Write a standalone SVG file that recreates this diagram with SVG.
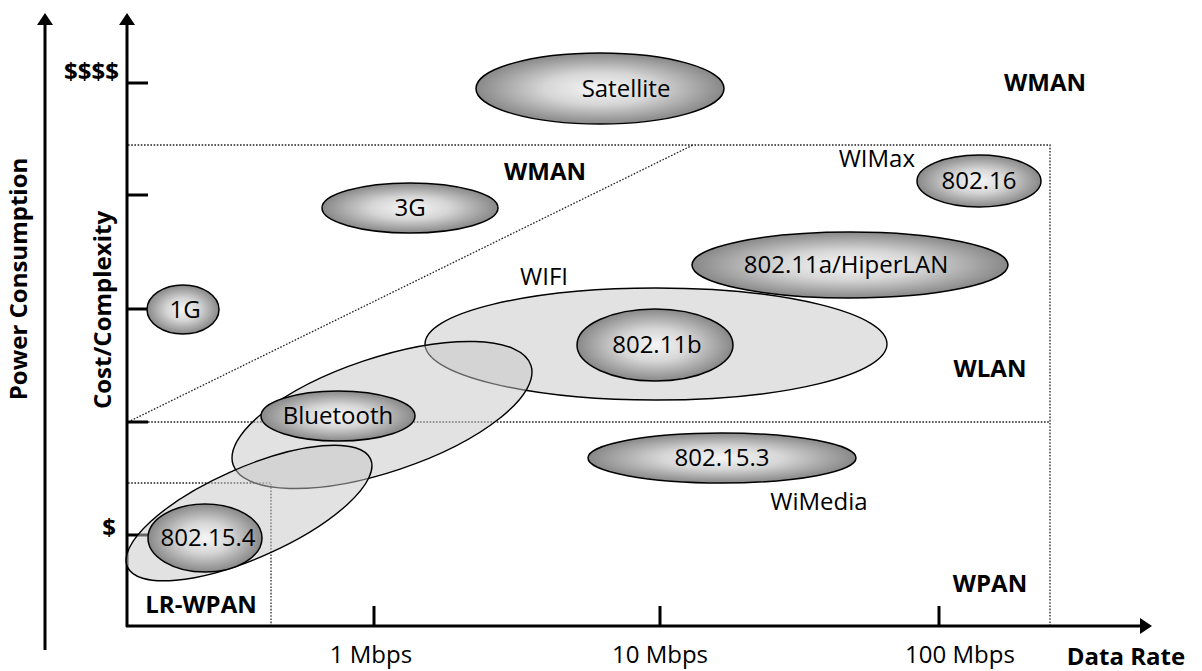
<svg xmlns="http://www.w3.org/2000/svg" width="1202" height="671" viewBox="0 0 1202 671">
  <style>
    text { font-family: "Open Sans", "Liberation Sans", sans-serif; font-size: 24px; fill: #000; }
    .b { font-weight: bold; }
    .c { text-anchor: middle; }
    .e { text-anchor: end; }
    .axis { stroke: #000; stroke-width: 3; fill: none; }
    .tick { stroke: #000; stroke-width: 3; }
    .dot { stroke: #222; stroke-width: 1.3; stroke-dasharray: 1.6 1.6; fill: none; }
    .zone { fill: #c6c6c6; fill-opacity: 0.5; stroke: #000; stroke-width: 1.4; }
    .tech { fill: url(#shade); stroke: #000; stroke-width: 1.5; }
  </style>
  <defs>
    <radialGradient id="shade" cx="50%" cy="50%" r="50%">
      <stop offset="0" stop-color="#f6f6f6"/>
      <stop offset="0.45" stop-color="#d6d6d6"/>
      <stop offset="1" stop-color="#888888"/>
    </radialGradient>
    <marker id="arrow" markerWidth="12" markerHeight="16" refX="1" refY="8" orient="auto" markerUnits="userSpaceOnUse">
      <path d="M0,0 L12,8 L0,16 Z" fill="#000"/>
    </marker>
  </defs>

  <rect width="1202" height="671" fill="#fff"/>

  <!-- region boundaries -->
  <g id="connectors">
    <path class="dot" d="M128,145 H1050 V626"/>
    <path class="dot" d="M148,422 H1050"/>
    <path class="dot" d="M128,422 L693,145"/>
    <path class="dot" d="M128,483 H271 V626"/>
  </g>

  <!-- axes and ticks -->
  <g id="axes">
    <line class="axis" x1="45" y1="650" x2="45" y2="24" marker-end="url(#arrow)"/>
    <line class="axis" x1="127" y1="627" x2="127" y2="24" marker-end="url(#arrow)"/>
    <line class="axis" x1="126" y1="626" x2="1141" y2="626" marker-end="url(#arrow)"/>
    <g class="tick">
      <line x1="127" y1="83" x2="148" y2="83"/>
      <line x1="127" y1="195" x2="148" y2="195"/>
      <line x1="127" y1="309" x2="148" y2="309"/>
      <line x1="127" y1="422" x2="148" y2="422"/>
      <line x1="127" y1="535" x2="148" y2="535"/>
      <line x1="374" y1="606" x2="374" y2="626"/>
      <line x1="660" y1="606" x2="660" y2="626"/>
      <line x1="939" y1="606" x2="939" y2="626"/>
    </g>
  </g>

  <!-- axis labels -->
  <g id="labels">
    <text class="b c" transform="translate(27,279) rotate(-90)">Power Consumption</text>
    <text class="b c" transform="translate(111,310) rotate(-90)">Cost/Complexity</text>
    <text class="b e" x="119" y="80">$$$$</text>
    <text class="b e" x="116" y="536">$</text>
    <text class="c" x="371" y="663">1 Mbps</text>
    <text class="c" x="660" y="663">10 Mbps</text>
    <text class="c" x="960" y="663">100 Mbps</text>
    <text class="b c" x="1126" y="665">Data Rate</text>
    <text class="b c" x="1045" y="91">WMAN</text>
    <text class="b c" x="545" y="180">WMAN</text>
    <text class="b c" x="990" y="377">WLAN</text>
    <text class="b c" x="990" y="592">WPAN</text>
    <text class="b c" x="201" y="613">LR-WPAN</text>
    <text class="e" x="915" y="167">WIMax</text>
    <text class="c" x="544" y="285">WIFI</text>
    <text class="c" x="819" y="510">WiMedia</text>
  </g>

  <!-- technology families -->
  <g id="wifi-zone">
    <ellipse class="zone" cx="656" cy="344" rx="231" ry="56"/>
  </g>
  <g id="bluetooth-zone">
    <ellipse class="zone" cx="382" cy="415" rx="157" ry="57" transform="rotate(-18.5 382 415)"/>
  </g>
  <g id="lrwpan-zone">
    <ellipse class="zone" cx="249" cy="513" rx="133" ry="45" transform="rotate(-23.9 249 513)"/>
  </g>

  <!-- technologies -->
  <g id="satellite">
    <ellipse class="tech" cx="600" cy="88.5" rx="124" ry="35.5"/>
    <text class="c" x="626" y="97">Satellite</text>
  </g>
  <g id="g3">
    <ellipse class="tech" cx="410" cy="208" rx="88" ry="25"/>
    <text class="c" x="410" y="216">3G</text>
  </g>
  <g id="g1">
    <ellipse class="tech" cx="183" cy="309.5" rx="36" ry="24.5"/>
    <text class="c" x="185" y="318">1G</text>
  </g>
  <g id="ieee80216">
    <ellipse class="tech" cx="979" cy="181" rx="62" ry="26"/>
    <text class="c" x="979" y="189">802.16</text>
  </g>
  <g id="ieee80211a">
    <ellipse class="tech" cx="850" cy="265" rx="158" ry="33"/>
    <text class="c" x="846" y="273">802.11a/HiperLAN</text>
  </g>
  <g id="ieee80211b">
    <ellipse class="tech" cx="655" cy="345" rx="78" ry="36"/>
    <text class="c" x="657" y="353">802.11b</text>
  </g>
  <g id="ieee802153">
    <ellipse class="tech" cx="722" cy="458" rx="134" ry="25"/>
    <text class="c" x="722" y="466">802.15.3</text>
  </g>
  <g id="bluetooth">
    <ellipse class="tech" cx="338" cy="416" rx="77" ry="25"/>
    <text class="c" x="338" y="424">Bluetooth</text>
  </g>
  <g id="ieee802154">
    <ellipse class="tech" cx="205" cy="538" rx="57" ry="34"/>
    <text class="c" x="208" y="546">802.15.4</text>
  </g>
</svg>
